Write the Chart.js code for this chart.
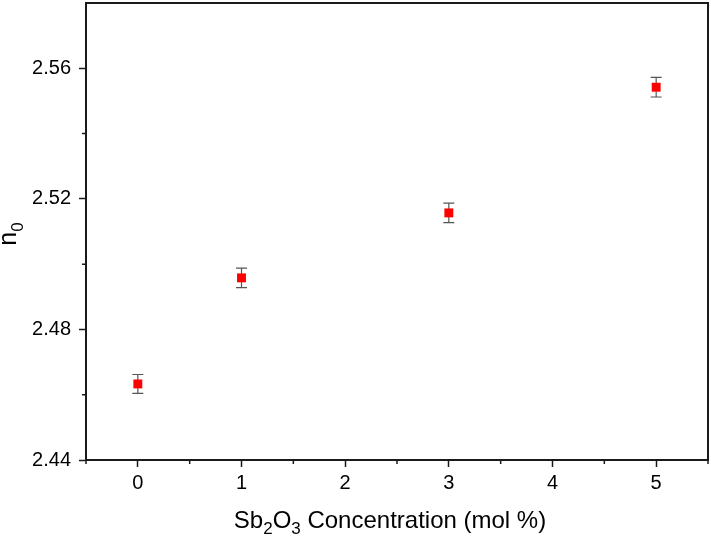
<!DOCTYPE html>
<html>
<head>
<meta charset="utf-8">
<script src="https://cdn.jsdelivr.net/npm/chart.js@4"></script>
<style>
html,body{margin:0;padding:0;background:#fff}
#wrap{width:711px;height:537px}
</style>
</head>
<body>
<div id="wrap"><canvas id="chart" width="711" height="537"></canvas></div>
<script>
// Sb2O3 concentration vs n0
const conc = [0, 1, 3, 5];
const n0 = [2.4633, 2.4958, 2.5157, 2.5542];
const n0Err = [0.0029, 0.0030, 0.0030, 0.0030];
const xTicks = [0, 1, 2, 3, 4, 5];
const xMinor = [-0.5, 0.5, 1.5, 2.5, 3.5, 4.5, 5.5];
const yTicks = [2.44, 2.48, 2.52, 2.56];
const yMinor = [2.46, 2.50, 2.54];

const FONT = 'Liberation Sans, Arial, sans-serif';
const AX = '#1a1a1a';

// error bars, drawn under the markers
const errorBars = {
  id: 'errorBars',
  beforeDatasetsDraw(chart){
    const {ctx, scales:{x, y}} = chart;
    ctx.save();
    ctx.strokeStyle = '#555';
    ctx.lineWidth = 1.2;
    conc.forEach((c, i) => {
      const px = x.getPixelForValue(c);
      const top = y.getPixelForValue(n0[i] + n0Err[i]);
      const bot = y.getPixelForValue(n0[i] - n0Err[i]);
      ctx.beginPath();
      ctx.moveTo(px, top); ctx.lineTo(px, bot);
      ctx.moveTo(px - 5.5, top); ctx.lineTo(px + 5.5, top);
      ctx.moveTo(px - 5.5, bot); ctx.lineTo(px + 5.5, bot);
      ctx.stroke();
    });
    ctx.restore();
  }
};

// frame, minor ticks and titles with subscripts
const frame = {
  id: 'frame',
  afterDraw(chart){
    const {ctx, chartArea:a, scales:{x, y}} = chart;
    ctx.save();
    ctx.strokeStyle = AX;
    ctx.lineWidth = 2;
    ctx.beginPath();
    ctx.moveTo(a.left, a.top); ctx.lineTo(a.right, a.top); ctx.lineTo(a.right, a.bottom);
    ctx.stroke();
    ctx.lineWidth = 1.5;
    ctx.beginPath();
    for(const v of xMinor){
      const px = x.getPixelForValue(v);
      ctx.moveTo(px, a.bottom); ctx.lineTo(px, a.bottom + 4);
    }
    for(const v of yMinor){
      const py = y.getPixelForValue(v);
      ctx.moveTo(a.left, py); ctx.lineTo(a.left - 4, py);
    }
    ctx.stroke();

    // x title
    ctx.fillStyle = '#000';
    ctx.textBaseline = 'alphabetic';
    const big = '24px ' + FONT, small = '17px ' + FONT;
    const parts = [['Sb', big, 0], ['2', small, 6], ['O', big, 0], ['3', small, 6], [' Concentration (mol %)', big, 0]];
    let w = 0;
    for(const p of parts){ ctx.font = p[1]; w += ctx.measureText(p[0]).width; }
    let cx = 390 - w / 2;
    const base = 528;
    for(const p of parts){
      ctx.font = p[1];
      ctx.fillText(p[0], cx, base + p[2]);
      cx += ctx.measureText(p[0]).width;
    }

    // y title
    ctx.translate(16, 234);
    ctx.rotate(-Math.PI / 2);
    ctx.font = '25px ' + FONT;
    const nw = ctx.measureText('n').width;
    ctx.font = small;
    const zw = ctx.measureText('0').width;
    let sx = -(nw + zw) / 2;
    ctx.font = '25px ' + FONT;
    ctx.fillText('n', sx, 0);
    ctx.font = small;
    ctx.fillText('0', sx + nw, 7);
    ctx.restore();
  }
};

new Chart(document.getElementById('chart').getContext('2d'), {
  type: 'scatter',
  data: {
    datasets: [{
      label: 'n0',
      data: conc.map((c, i) => ({x: c, y: n0[i]})),
      pointStyle: 'rect',
      pointRadius: 6.3,
      pointHoverRadius: 6.3,
      backgroundColor: '#ff0000',
      borderColor: '#ff0000',
      borderWidth: 0
    }]
  },
  options: {
    responsive: false,
    animation: false,
    layout: {autoPadding: false, padding: {top: 3, right: 3, left: 0, bottom: 0}},
    plugins: {legend: {display: false}, tooltip: {enabled: false}},
    scales: {
      x: {
        type: 'linear',
        min: -0.5, max: 5.5,
        afterBuildTicks: s => { s.ticks = xTicks.map(v => ({value: v})); },
        afterFit: s => { s.height = 77; s.paddingLeft = 0; s.paddingRight = 0; },
        border: {display: true, color: AX, width: 2},
        grid: {drawOnChartArea: false, drawTicks: true, tickLength: 7, color: AX, tickWidth: 1.5},
        ticks: {color: '#000', font: {family: FONT, size: 20}, padding: 4, maxRotation: 0}
      },
      y: {
        type: 'linear',
        min: 2.44, max: 2.58,
        afterBuildTicks: s => { s.ticks = yTicks.map(v => ({value: v})); },
        afterFit: s => { s.width = 86; s.paddingTop = 0; s.paddingBottom = 0; },
        border: {display: true, color: AX, width: 2},
        grid: {drawOnChartArea: false, drawTicks: true, tickLength: 7, color: AX, tickWidth: 1.5},
        ticks: {color: '#000', font: {family: FONT, size: 20}, padding: 8,
          callback: v => v.toFixed(2)}
      }
    }
  },
  plugins: [errorBars, frame]
});
</script>
</body>
</html>
